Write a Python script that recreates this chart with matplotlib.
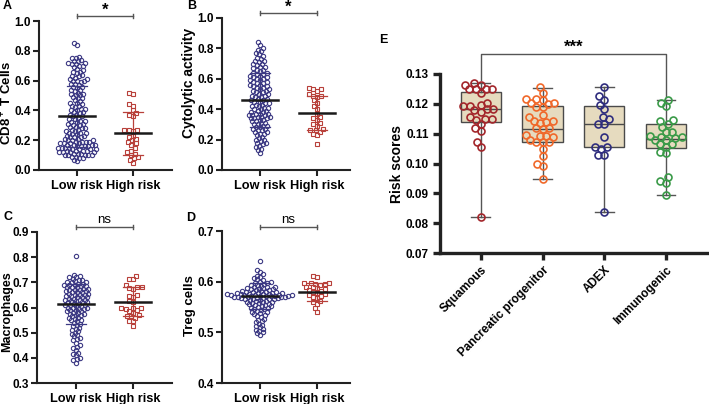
import numpy as np
import matplotlib
matplotlib.use("Agg")
import matplotlib.pyplot as plt

plt.rcParams['font.family'] = ['Liberation Sans', 'DejaVu Sans']
plt.rcParams['font.weight'] = 'bold'
plt.rcParams['axes.labelweight'] = 'bold'
plt.rcParams['mathtext.fontset'] = 'custom'
plt.rcParams['mathtext.rm'] = 'Liberation Sans:bold'
plt.rcParams['mathtext.bf'] = 'Liberation Sans:bold'
plt.rcParams['mathtext.it'] = 'Liberation Sans:bold'

# ---------------- data ----------------
groups = ["Low risk", "High risk"]

cd8_low = [0.85, 0.84,
    0.76, 0.75, 0.75, 0.74, 0.73, 0.73, 0.72, 0.72, 0.71, 0.71, 0.70, 0.70,
    0.69, 0.68, 0.67, 0.66, 0.66, 0.65, 0.64, 0.63, 0.63, 0.62, 0.61, 0.61, 0.60, 0.60, 0.60,
    0.59, 0.58, 0.58, 0.57, 0.56, 0.56, 0.55, 0.54, 0.54, 0.53, 0.52, 0.51, 0.51, 0.50, 0.50,
    0.49, 0.48, 0.48, 0.47, 0.46, 0.45, 0.45, 0.44, 0.43, 0.43, 0.42, 0.41, 0.41, 0.40, 0.40,
    0.39, 0.39, 0.38, 0.37, 0.37, 0.36, 0.36, 0.35, 0.34, 0.34, 0.33, 0.33, 0.32, 0.32, 0.31, 0.31, 0.30, 0.30,
    0.29, 0.29, 0.28, 0.28, 0.27, 0.27, 0.26, 0.26, 0.25, 0.25, 0.25, 0.24, 0.24, 0.23, 0.23, 0.22, 0.22, 0.22,
    0.21, 0.21, 0.20, 0.20, 0.20,
    0.19, 0.19, 0.19, 0.19, 0.18, 0.18, 0.18, 0.18, 0.17, 0.17, 0.17, 0.17, 0.16, 0.16, 0.16, 0.16,
    0.15, 0.15, 0.15, 0.15, 0.14, 0.14, 0.14, 0.14, 0.13, 0.13, 0.13, 0.13, 0.12, 0.12, 0.12, 0.12,
    0.11, 0.11, 0.11, 0.10, 0.10, 0.10, 0.10, 0.10, 0.09, 0.09, 0.08, 0.08, 0.07, 0.06]
cd8_high = [0.52, 0.51, 0.44, 0.43, 0.40, 0.38, 0.37, 0.36, 0.27, 0.27, 0.27, 0.26, 0.23, 0.22,
    0.21, 0.20, 0.19, 0.18, 0.17, 0.15, 0.13, 0.12, 0.11, 0.10, 0.09, 0.08, 0.07, 0.05]
cd8_mean = [0.36, 0.245]
cd8_sd = [0.205, 0.142]

cyt_low = [0.84, 0.82, 0.80, 0.79, 0.78, 0.77, 0.76, 0.75, 0.74, 0.73, 0.72, 0.72, 0.71, 0.70, 0.70,
    0.69, 0.68, 0.68, 0.67, 0.66, 0.66, 0.65, 0.64, 0.64, 0.63, 0.63, 0.62, 0.62, 0.61, 0.61, 0.60, 0.60,
    0.59, 0.59, 0.58, 0.58, 0.57, 0.57, 0.56, 0.56, 0.55, 0.55, 0.54, 0.54, 0.53, 0.53, 0.52, 0.52,
    0.51, 0.51, 0.50, 0.50,
    0.49, 0.49, 0.48, 0.48, 0.47, 0.47, 0.46, 0.46, 0.45, 0.45, 0.44, 0.44, 0.43, 0.43, 0.42, 0.42,
    0.41, 0.41, 0.40, 0.40,
    0.39, 0.39, 0.38, 0.38, 0.37, 0.37, 0.37, 0.36, 0.36, 0.36, 0.35, 0.35, 0.35, 0.34, 0.34, 0.34,
    0.33, 0.33, 0.32, 0.32, 0.31, 0.31, 0.30, 0.30,
    0.29, 0.29, 0.28, 0.28, 0.27, 0.27, 0.26, 0.26, 0.25, 0.25, 0.24, 0.24, 0.23, 0.22, 0.21, 0.20,
    0.20, 0.19, 0.18, 0.18, 0.17, 0.16, 0.15, 0.14, 0.13, 0.11]
cyt_high = [0.54, 0.53, 0.53, 0.52, 0.50, 0.49, 0.49, 0.48, 0.46, 0.44, 0.42, 0.40, 0.37, 0.35,
    0.34, 0.33, 0.31, 0.30, 0.29, 0.27, 0.26, 0.26, 0.25, 0.24, 0.23, 0.17]
cyt_mean = [0.46, 0.375]
cyt_sd = [0.175, 0.115]

mac_low = [0.805,
    0.73, 0.725, 0.72, 0.72, 0.715, 0.71, 0.71, 0.705, 0.70, 0.70, 0.70, 0.695, 0.695, 0.69, 0.69,
    0.69, 0.685, 0.685, 0.68, 0.68, 0.68, 0.675, 0.675, 0.67, 0.67, 0.67, 0.665, 0.665, 0.66, 0.66,
    0.66, 0.655, 0.655, 0.65, 0.65, 0.65, 0.645, 0.645, 0.64, 0.64, 0.64, 0.635, 0.635, 0.63, 0.63,
    0.63, 0.625, 0.625, 0.62, 0.62, 0.62, 0.615, 0.615, 0.61, 0.61, 0.61, 0.605, 0.605, 0.60, 0.60,
    0.60, 0.595, 0.595, 0.59, 0.59, 0.585, 0.585, 0.58, 0.58, 0.575, 0.575, 0.57, 0.57, 0.565, 0.56,
    0.56, 0.555, 0.55, 0.55, 0.545, 0.54, 0.535, 0.53, 0.525, 0.52, 0.515, 0.51, 0.505, 0.50, 0.495,
    0.49, 0.485, 0.48, 0.475, 0.47, 0.46, 0.45, 0.445, 0.44, 0.43, 0.42, 0.415, 0.41, 0.40, 0.395,
    0.39, 0.38]
mac_high = [0.727, 0.715, 0.713, 0.69, 0.68, 0.68, 0.678, 0.675, 0.65, 0.645, 0.64, 0.625, 0.62,
    0.60, 0.60, 0.598, 0.595, 0.59, 0.585, 0.58, 0.57, 0.565, 0.565, 0.56, 0.546, 0.545, 0.525]
mac_mean = [0.615, 0.623]
mac_sd = [0.079, 0.058]

treg_low = [0.64, 0.623, 0.62, 0.615, 0.612, 0.61, 0.607, 0.605, 0.603, 0.60, 0.60, 0.598, 0.597,
    0.595, 0.594, 0.593, 0.592, 0.59, 0.59, 0.589, 0.588, 0.587, 0.586, 0.585, 0.585, 0.584, 0.583,
    0.582, 0.581, 0.58, 0.58, 0.58, 0.579, 0.578, 0.578, 0.577, 0.577, 0.576, 0.576, 0.575, 0.575,
    0.575, 0.574, 0.574, 0.573, 0.573, 0.573, 0.572, 0.572, 0.572, 0.571, 0.571, 0.571, 0.57, 0.57,
    0.57, 0.569, 0.569, 0.568, 0.568, 0.567, 0.567, 0.566, 0.566, 0.565, 0.565, 0.564, 0.563, 0.562,
    0.561, 0.56, 0.56, 0.559, 0.558, 0.557, 0.556, 0.555, 0.554, 0.553, 0.552, 0.551, 0.55, 0.549,
    0.548, 0.547, 0.546, 0.545, 0.543, 0.541, 0.54, 0.538, 0.536, 0.534, 0.532, 0.53, 0.527, 0.525,
    0.522, 0.52, 0.517, 0.515, 0.512, 0.51, 0.507, 0.505, 0.503, 0.50, 0.498, 0.495]
treg_high = [0.612, 0.61, 0.598, 0.597, 0.597, 0.596, 0.595, 0.594, 0.59, 0.589, 0.588, 0.586,
    0.583, 0.582, 0.58, 0.578, 0.576, 0.574, 0.571, 0.57, 0.568, 0.562, 0.56, 0.556, 0.548, 0.54]
treg_mean = [0.572, 0.580]
treg_sd = [0.026, 0.018]

subtypes = ["Squamous", "Pancreatic progenitor", "ADEX", "Immunogenic"]
squamous = [0.1270, 0.1264, 0.1262, 0.1249, 0.1249, 0.1249, 0.1249, 0.1236, 0.1204, 0.1197, 0.1193,
    0.1193, 0.1182, 0.1182, 0.1178, 0.1174, 0.1157, 0.1148, 0.1148, 0.1146, 0.1133, 0.1118, 0.1110,
    0.1073, 0.1056, 0.0820]
pancreatic = [0.1255, 0.1236, 0.1216, 0.1213, 0.1216, 0.1202, 0.1200, 0.1202, 0.1191, 0.1189,
    0.1163, 0.1155, 0.1144, 0.1140, 0.1144, 0.1135, 0.1118, 0.1118, 0.1115, 0.1096, 0.1088, 0.1092,
    0.1092, 0.1078, 0.1073, 0.1073, 0.1073, 0.1047, 0.1025, 0.1000, 0.0991, 0.0947]
adex = [0.1258, 0.1227, 0.1213, 0.1197, 0.1182, 0.1157, 0.1148, 0.1133, 0.1133, 0.1090, 0.1056,
    0.1056, 0.1047, 0.1028, 0.1028, 0.0837]
immunogenic = [0.1213, 0.1204, 0.1193, 0.1146, 0.1144, 0.1133, 0.1124, 0.1107, 0.1107, 0.1090,
    0.1088, 0.1092, 0.1084, 0.1078, 0.1078, 0.1067, 0.1065, 0.1056, 0.1034, 0.1040, 0.0955, 0.0942,
    0.0935, 0.0896]
box_q1 = [0.1140, 0.1073, 0.1055, 0.1051]
box_med = [0.1183, 0.1117, 0.1132, 0.1082]
box_q3 = [0.1240, 0.1193, 0.1193, 0.1132]
box_lo = [0.0820, 0.0947, 0.0837, 0.0896]
box_hi = [0.1270, 0.1253, 0.1257, 0.1213]

# ---------------- styling ----------------
W, H = 709, 404
LOW_C = '#3d3a84'
HIGH_C = '#b8403a'
SUB_C = ['#a3262b', '#f0682a', '#2f2d7e', '#3a9a48']

fig = plt.figure(figsize=(W / 100, H / 100), dpi=100)


def rect(l, r, t, b):
    return [l / W, 1 - b / H, (r - l) / W, (b - t) / H]


def swarm_x(ax, xc, vals, d):
    vals = np.asarray(vals, float)
    pts = ax.transData.transform(np.column_stack([np.full(len(vals), xc), vals]))
    x0 = pts[0, 0]
    ys = pts[:, 1]
    order = np.argsort(ys)
    placed = []
    offs = np.zeros(len(vals))
    for i in order:
        y = ys[i]
        near = [(px, py) for px, py in placed if abs(py - y) < d]
        cands = [0.0]
        for px, py in near:
            dx = np.sqrt(max(d * d - (py - y) ** 2, 0))
            cands += [px + dx, px - dx]
        cands = sorted(cands, key=lambda c: (abs(c), c))
        for c in cands:
            ok = all((c - px) ** 2 + (y - py) ** 2 >= d * d - 1e-6 for px, py in near)
            if ok:
                break
        placed.append((c, y))
        offs[i] = c
    xs = ax.transData.inverted().transform(np.column_stack([x0 + offs, ys]))[:, 0]
    return xs


def style_axes(ax, lw=1.5):
    for s in ['top', 'right']:
        ax.spines[s].set_visible(False)
    for s in ['left', 'bottom']:
        ax.spines[s].set_linewidth(lw)
        ax.spines[s].set_color('#222222')
    ax.tick_params(width=lw, length=4, color='#222222', labelsize=8.5, pad=2)
    for lab in ax.get_yticklabels() + ax.get_xticklabels():
        lab.set_fontweight('bold')


def dot_panel(r, low, high, means, sds, ylim, yticks, ylabel, fmt, sig, xlim,
              labx, laby, labsize, top_px):
    ax = fig.add_axes(rect(*r))
    ax.set_xlim(*xlim)
    ax.set_ylim(*ylim)
    ax.set_yticks(yticks)
    ax.set_yticklabels([fmt.format(v) for v in yticks])
    ax.set_xticks([0, 1])
    ax.set_xticklabels(groups, fontsize=9.2, fontweight='bold')
    ax.set_ylabel(ylabel, fontsize=labsize, fontweight='bold')
    hpx = r[3] - r[2]
    wpx = r[1] - r[0]
    ax.yaxis.set_label_coords((labx - r[0]) / wpx, laby)
    style_axes(ax)
    ax.tick_params(axis='x', labelsize=9.2, pad=3)
    xl = swarm_x(ax, 0, low, 3.6)
    ax.plot(xl, low, 'o', ms=3.1, mfc='none', mec=LOW_C, mew=0.8, clip_on=False, zorder=2)
    xh = swarm_x(ax, 1, high, 4.4)
    ax.plot(xh, high, 's', ms=3.2, mfc='none', mec=HIGH_C, mew=0.8, clip_on=False, zorder=2)
    for i, col in enumerate([LOW_C, HIGH_C]):
        m, s = means[i], sds[i]
        ax.plot([i, i], [m - s, m + s], color=col, lw=0.9, zorder=3)
        for yy in (m - s, m + s):
            ax.plot([i - 0.18, i + 0.18], [yy, yy], color=col, lw=0.9, zorder=3)
        ax.plot([i - 0.32, i + 0.32], [m, m], color='#1a1a1a', lw=1.8, zorder=4)
    tr = ax.get_xaxis_transform()
    by = 1 + (r[2] - top_px) / hpx
    ax.plot([0, 1], [by, by], color='#555555', lw=1.0, transform=tr, clip_on=False)
    for xx in (0, 1):
        ax.plot([xx, xx], [by - 2.0 / hpx, by + 2.0 / hpx], color='#555555', lw=1.0,
                transform=tr, clip_on=False)
    if sig == '*':
        ax.text(0.5, by + 1.0 / hpx, sig, transform=tr, ha='center', va='baseline',
                fontsize=12, fontweight='bold')
    else:
        ax.text(0.5, by + 4.0 / hpx, sig, transform=tr, ha='center', va='baseline',
                fontsize=9.5, fontweight='normal')
    return ax


dot_panel((39, 172, 21, 170), cd8_low, cd8_high, cd8_mean, cd8_sd, (0, 1.0),
          [0.0, 0.2, 0.4, 0.6, 0.8, 1.0], 'CD8$^+$ T Cells', '{:.1f}', '*', (-0.68, 1.70),
          14.5, 0.45, 9.5, 16)
dot_panel((222, 350, 18, 170), cyt_low, cyt_high, cyt_mean, cyt_sd, (0, 1.0),
          [0.0, 0.2, 0.4, 0.6, 0.8, 1.0], 'Cytolytic activity', '{:.1f}', '*', (-0.667, 1.58),
          196, 0.57, 10, 13)
dot_panel((37, 172, 232, 383), mac_low, mac_high, mac_mean, mac_sd, (0.3, 0.9),
          [0.3, 0.4, 0.5, 0.6, 0.7, 0.8, 0.9], 'Macrophages', '{:.1f}', 'ns', (-0.68, 1.68),
          13, 0.47, 9, 227)
dot_panel((222, 350, 231, 383), treg_low, treg_high, treg_mean, treg_sd, (0.4, 0.7),
          [0.4, 0.5, 0.6, 0.7], 'Treg cells', '{:.1f}', 'ns', (-0.667, 1.58),
          196, 0.507, 9.5, 227)

# ---------------- panel E ----------------
ax = fig.add_axes(rect(440, 708, 74, 253))
stats = []
for i in range(4):
    stats.append(dict(med=box_med[i], q1=box_q1[i], q3=box_q3[i], whislo=box_lo[i],
                      whishi=box_hi[i], fliers=[]))
ax.bxp(stats, positions=range(4), widths=0.65, patch_artist=True, showfliers=False,
       manage_ticks=False,
       boxprops=dict(facecolor='#e6dbbf', edgecolor='#4a4a4a', linewidth=1.0),
       medianprops=dict(color='#4a4a4a', linewidth=1.0),
       whiskerprops=dict(color='#555555', linewidth=1.0),
       capprops=dict(color='#555555', linewidth=1.0), capwidths=0.3, zorder=1)
ax.set_xlim(-0.66, 3.68)
ax.set_ylim(0.07, 0.13)
yt = [0.07, 0.08, 0.09, 0.10, 0.11, 0.12, 0.13]
ax.set_yticks(yt)
ax.set_yticklabels(['{:.2f}'.format(v) for v in yt])
ax.set_xticks(range(4))
ax.set_xticklabels(subtypes, rotation=45, ha='right', rotation_mode='anchor',
                   fontsize=8.5, fontweight='bold')
style_axes(ax, lw=2.4)
ax.tick_params(axis='both', length=5, width=2.4, labelsize=8.5, pad=3)
ax.set_ylabel('Risk scores', fontsize=10, fontweight='bold')
ax.yaxis.set_label_coords((404 - 440) / 268, 0.497)

for i, vals in enumerate([squamous, pancreatic, adex, immunogenic]):
    xs = swarm_x(ax, i, vals, 6.4)
    ax.plot(xs, vals, 'o', ms=5.0, mfc='none', mec=SUB_C[i], mew=1.2, zorder=3, clip_on=False)

# significance bracket Squamous vs Immunogenic
top_y = 0.1367
ax.plot([0, 0, 3, 3], [0.1280, top_y, top_y, 0.1222], color='#555555', lw=1.0, clip_on=False)
ax.text(1.5, top_y + 0.0006, '***', ha='center', va='baseline', fontsize=12, fontweight='bold')

# panel letters
for lab, (px, py) in {'A': (7, 6), 'B': (192, 6), 'C': (8, 217), 'D': (191, 218), 'E': (383, 40)}.items():
    fig.text(px / W, 1 - py / H, lab, fontsize=9, fontweight='bold', ha='center', va='center')

fig.savefig('out.png', dpi=100)
